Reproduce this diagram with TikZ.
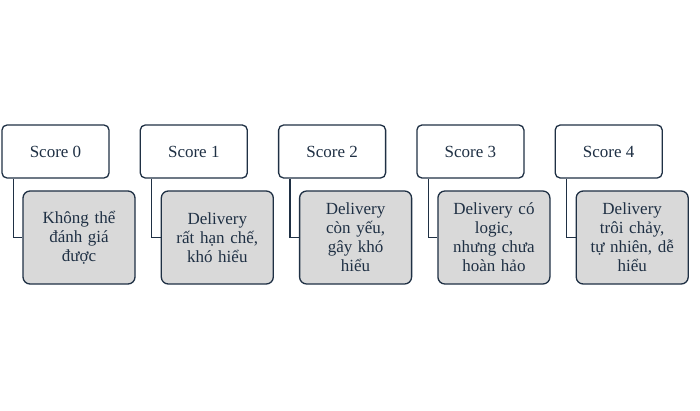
\documentclass[tikz,border=0pt]{standalone}
\usepackage{fontspec}
\setmainfont{Liberation Serif}
\definecolor{navy}{HTML}{1F3044}
\definecolor{graybox}{HTML}{D9D9D9}
\begin{document}
\begin{tikzpicture}[x=1pt,y=-1pt,
  scorebox/.style={draw=navy,line width=1.3pt,rounded corners=5pt,fill=white,minimum width=107pt,minimum height=53pt,font=\fontsize{17}{20}\selectfont,text=navy,inner sep=0pt},
  descbox/.style={draw=navy,line width=1.3pt,rounded corners=7pt,fill=graybox,minimum width=112pt,minimum height=93pt,font=\fontsize{17}{19}\selectfont,text=navy,align=center,text width=105pt,inner sep=0pt},
  link/.style={draw=navy,line width=1.3pt}]
\useasboundingbox (0,0) rectangle (700,411);
\foreach \i/\t [count=\k from 0] in {0/{Không thể\\đánh giá\\được},1/{Delivery\\rất hạn chế,\\khó hiểu},2/{Delivery\\còn yếu,\\gây khó\\hiểu},3/{Delivery có\\logic,\\nhưng chưa\\hoàn hảo},4/{Delivery\\trôi chảy,\\tự nhiên, dễ\\hiểu}}{
  \pgfmathsetmacro{\xo}{\k*138.3}
  \node[descbox] (d\k) at (\xo+79,237.5) {\t};
  \node[scorebox] (s\k) at (\xo+55.5,151.5) {Score \i};
  \draw[link] ([xshift=-42pt]s\k.south) |- (d\k.west);
}
\end{tikzpicture}
\end{document}
